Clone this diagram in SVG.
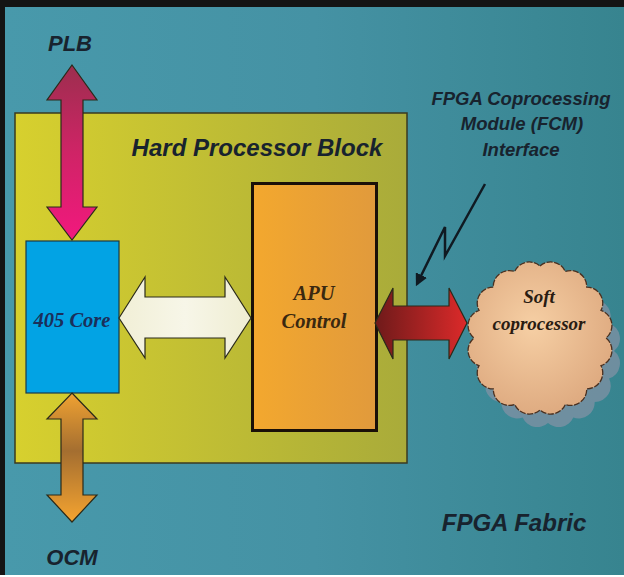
<svg xmlns="http://www.w3.org/2000/svg" width="624" height="577" viewBox="0 0 624 577">
<defs>
<linearGradient id="bg" x1="0" y1="0" x2="1" y2="0">
<stop offset="0" stop-color="#4899ab"/><stop offset="0.5" stop-color="#4592a4"/><stop offset="1" stop-color="#37848f"/>
</linearGradient>
<linearGradient id="yel" x1="0" y1="0" x2="1" y2="0">
<stop offset="0" stop-color="#d7d02e"/><stop offset="1" stop-color="#a9ab3a"/>
</linearGradient>
<linearGradient id="apu" x1="0" y1="0" x2="1" y2="0">
<stop offset="0" stop-color="#f3a82e"/><stop offset="1" stop-color="#e19a3c"/>
</linearGradient>
<linearGradient id="plb" x1="0" y1="0" x2="0" y2="1">
<stop offset="0" stop-color="#9c2e4e"/><stop offset="0.5" stop-color="#cf2466"/><stop offset="1" stop-color="#f2187e"/>
</linearGradient>
<linearGradient id="ocm" x1="0" y1="0" x2="0" y2="1">
<stop offset="0" stop-color="#f0a232"/><stop offset="0.45" stop-color="#a46e30"/><stop offset="1" stop-color="#f5a430"/>
</linearGradient>
<linearGradient id="wht" x1="0" y1="0" x2="1" y2="0">
<stop offset="0" stop-color="#f1efd6"/><stop offset="0.5" stop-color="#f7f6e8"/><stop offset="1" stop-color="#efedd2"/>
</linearGradient>
<linearGradient id="red" x1="0" y1="0" x2="1" y2="0">
<stop offset="0" stop-color="#6e1a1a"/><stop offset="1" stop-color="#dc2a2a"/>
</linearGradient>
<radialGradient id="cloud" cx="0.45" cy="0.42" r="0.6">
<stop offset="0" stop-color="#f6cfa4"/><stop offset="1" stop-color="#deaa80"/>
</radialGradient>
<marker id="bolt" viewBox="0 0 10 10" refX="8" refY="5" markerWidth="5" markerHeight="5" orient="auto">
<path d="M0,0 L10,5 L0,10 z" fill="#101a22"/>
</marker>
<path id="cloudShape" d="M540,266 A16,16 0 0 1 565.3,271.5 A16,16 0 0 1 586.7,287.1 A16,16 0 0 1 601,310.4 A16,16 0 0 1 606,338 A16,16 0 0 1 601,365.6 A16,16 0 0 1 586.7,388.9 A16,16 0 0 1 565.3,404.5 A16,16 0 0 1 540,410 A16,16 0 0 1 514.7,404.5 A16,16 0 0 1 493.3,388.9 A16,16 0 0 1 479,365.6 A16,16 0 0 1 474,338 A16,16 0 0 1 479,310.4 A16,16 0 0 1 493.3,287.1 A16,16 0 0 1 514.7,271.5 A16,16 0 0 1 540,266 Z"/>
</defs>
<style>
.lbl{font-family:"Liberation Sans",Arial,sans-serif;font-weight:bold;font-style:italic;fill:#18232e;}
.ser{font-family:"Liberation Serif","Times New Roman",serif;font-style:italic;font-weight:bold;}
.edge{stroke:#2a2a1a;stroke-width:1.2;stroke-linejoin:miter;}
</style>
<rect x="0" y="0" width="624" height="577" fill="#ffffff"/>
<rect x="0" y="0" width="624" height="575" fill="#141414"/>
<rect x="5" y="7" width="619" height="568" fill="url(#bg)"/>

<g id="hard-processor-block">
<rect x="15" y="113" width="392" height="350" fill="url(#yel)" stroke="#3a3a20" stroke-width="1.5"/>
<text class="lbl" x="257" y="156" font-size="24" text-anchor="middle">Hard Processor Block</text>
</g>

<g id="core-405">
<rect x="26" y="241" width="93" height="152" fill="#02a3e4" stroke="#1c3a48" stroke-width="1.2"/>
<text class="ser" x="72" y="327" font-size="20.5" text-anchor="middle" fill="#1b2f5a">405 Core</text>
</g>

<g id="apu-control">
<rect x="252.5" y="183.5" width="124" height="247" fill="url(#apu)" stroke="#1a1008" stroke-width="3"/>
<text class="ser" x="314" y="300" font-size="20.5" text-anchor="middle" fill="#3a2810">APU</text>
<text class="ser" x="314" y="328" font-size="20.5" text-anchor="middle" fill="#3a2810">Control</text>
</g>

<g id="soft-coprocessor">
<use href="#cloudShape" transform="translate(8,13)" fill="#8292a4" opacity="0.75"/>
<use href="#cloudShape" fill="url(#cloud)" stroke="#4a3020" stroke-width="1.3" stroke-dasharray="6 1.5"/>
<text font-family="Liberation Serif,Times New Roman,serif" font-style="italic" font-weight="bold" font-size="19" fill="#2a1c12" x="539" y="303" text-anchor="middle">Soft</text>
<text font-family="Liberation Serif,Times New Roman,serif" font-style="italic" font-weight="bold" font-size="19" fill="#2a1c12" x="539" y="330" text-anchor="middle">coprocessor</text>
</g>

<g id="plb">
<text class="lbl" x="70" y="51" font-size="22" text-anchor="middle">PLB</text>
</g>
<g id="ocm">
<text class="lbl" x="72" y="565" font-size="22" text-anchor="middle">OCM</text>
</g>
<g id="fcm-label">
<text class="lbl" x="521" y="105" font-size="18.5" text-anchor="middle">FPGA Coprocessing</text>
<text class="lbl" x="522" y="130" font-size="18.5" text-anchor="middle">Module (FCM)</text>
<text class="lbl" x="521" y="156" font-size="18.5" text-anchor="middle">Interface</text>
</g>
<g id="fpga-fabric">
<text class="lbl" x="514" y="531" font-size="24" text-anchor="middle">FPGA Fabric</text>
</g>

<g id="connectors">
<polygon class="edge" fill="url(#plb)" points="72,65 97,100 83,100 83,207 97,207 72,240 47,207 61,207 61,100 47,100"/>
<polygon class="edge" fill="url(#ocm)" points="72,393 97,419 83,419 83,495 97,495 72,522 47,495 61,495 61,419 47,419"/>
<polygon class="edge" fill="url(#wht)" stroke="#5a5a30" points="119,318 145,277 145,297 225,297 225,277 251,318 225,358 225,338 145,338 145,358"/>
<polygon class="edge" fill="url(#red)" stroke="#3a1010" points="375,323 393,288 393,306 449,306 449,288 467,323 449,359 449,340 393,340 393,359"/>
<polyline points="485,184 445,256 445,227 417,284" fill="none" stroke="#101a22" stroke-width="2.5" marker-end="url(#bolt)"/>
</g>
</svg>
